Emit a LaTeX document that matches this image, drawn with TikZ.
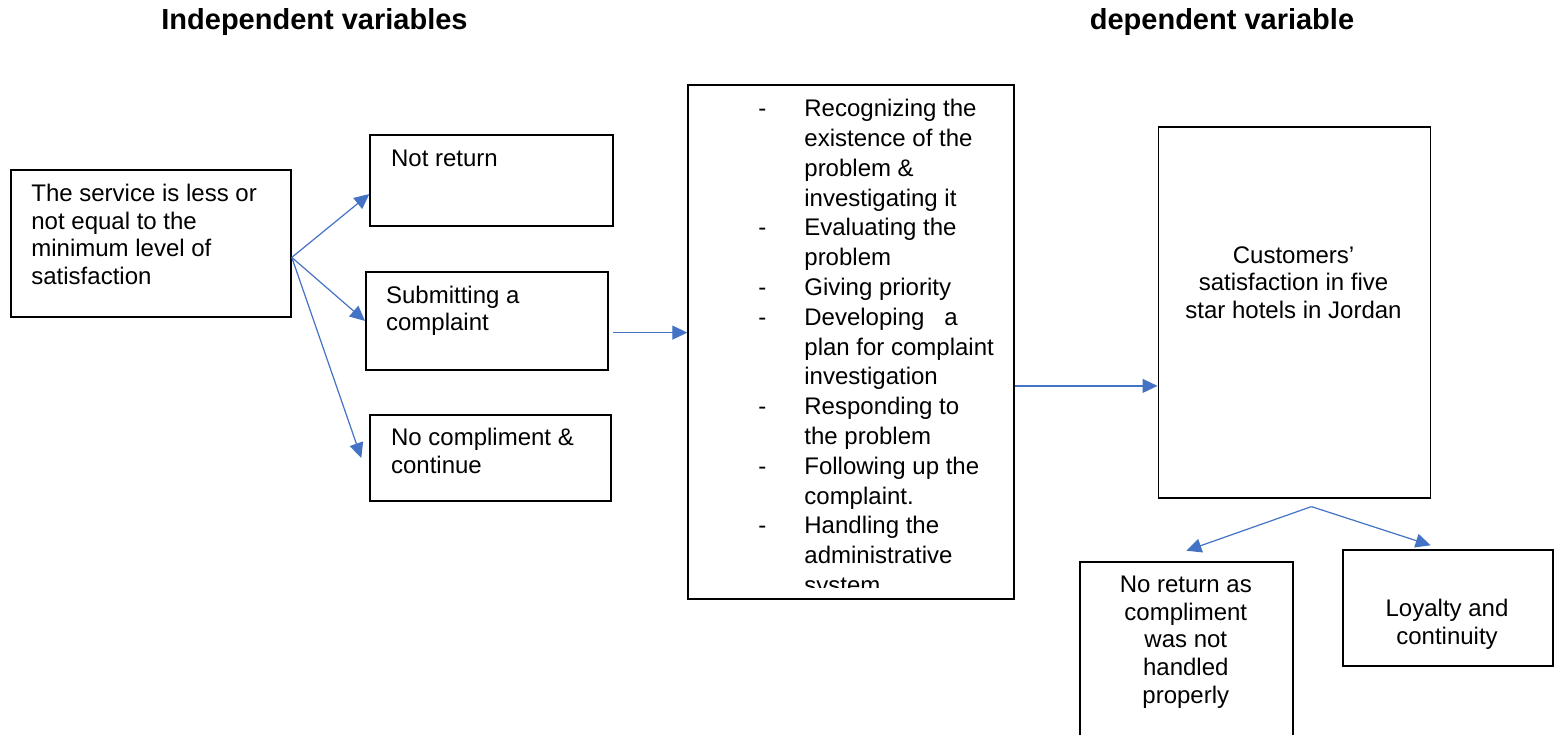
\documentclass[tikz,border=0pt]{standalone}
\usepackage{fontspec}
\setmainfont{Liberation Sans}
\usetikzlibrary{arrows.meta, calc, positioning}
\definecolor{linecol}{RGB}{0, 0, 0}
\definecolor{flowcol}{RGB}{68, 114, 196}
\tikzset{
  box/.style   = {draw=linecol, line width=0.9pt, inner sep=0pt,
                  anchor=north west},
  txt/.style   = {inner sep=0pt, font=\fontsize{12pt}{13.8pt}\selectfont},
  % multi-line texts are placed by the baseline of their last line
  ltxt/.style  = {txt, align=left, anchor=base west},
  ctxt/.style  = {txt, align=center, anchor=base},
  stxt/.style  = {ltxt, font=\fontsize{12pt}{14.9pt}\selectfont},
  title/.style = {inner sep=0pt, anchor=base,
                  font=\fontsize{14.5pt}{17pt}\selectfont\bfseries},
  flow/.style  = {-{Triangle[length=7.5pt, width=7pt]}, draw=flowcol,
                  line width=0.6pt},
}
% a dash in front of each step, the wrapped lines are indented
\newcommand{\dashitem}[1]{\makebox[23pt][l]{-}#1}
\newcommand{\moreitem}[1]{\hspace*{23pt}#1}

\begin{document}
\begin{tikzpicture}[x=0.5pt, y=-0.5pt]
  \useasboundingbox[fill=white] (0,0) rectangle (1556,734);

  %% ---------------- headings ----------------
  \node[title] (indep) at (314.5, 29.3) {Independent variables};
  \node[title] (dep) at (1222, 29.3) {dependent variable};

  %% ---------------- the independent side ----------------
  \node[box, minimum width=140pt, minimum height=73.2pt] (svc)
       at (10, 169.3) {};
  \node[ltxt] (svctxt) at (31, 284.3)
       {The service is less or\\ not equal to the\\ minimum level of\\
        satisfaction};

  \node[box, minimum width=121.2pt, minimum height=45.35pt] (notret)
       at (369.3, 134.3) {};
  \node[ltxt] (notrettxt) at (390.7, 166.7) {Not return};

  \node[box, minimum width=121.15pt, minimum height=49pt] (submit)
       at (365, 271) {};
  \node[ltxt] (submittxt) at (385.7, 330.7) {Submitting a\\ complaint};

  \node[box, minimum width=120.35pt, minimum height=43pt] (nocomp)
       at (369.3, 414) {};
  \node[ltxt] (nocomptxt) at (390.7, 473.3) {No compliment \&\\ continue};

  \coordinate (fork) at ([yshift=-7pt]svc.east);
  \draw[flow] (fork) -- ([yshift=-6.75pt]notret.west);
  \draw[flow] (fork) -- (submit.west);
  \draw[flow] (fork) -- ([xshift=-4pt]nocomp.west);

  %% ---------------- the handling steps ----------------
  \node[box, minimum width=163pt, minimum height=257pt] (steps)
       at (687.3, 84) {};
  \begin{scope}
    \clip (687.3, 84) rectangle (1013.3, 587);
    \node[stxt] (stepstxt) at (758, 593.5)
         {\dashitem{Recognizing the}\\ \moreitem{existence of the}\\
          \moreitem{problem \&}\\ \moreitem{investigating it}\\
          \dashitem{Evaluating the}\\ \moreitem{problem}\\
          \dashitem{Giving priority}\\
          \dashitem{Developing\hspace{10pt}a}\\
          \moreitem{plan for complaint}\\ \moreitem{investigation}\\
          \dashitem{Responding to}\\ \moreitem{the problem}\\
          \dashitem{Following up the}\\ \moreitem{complaint.}\\
          \dashitem{Handling the}\\ \moreitem{administrative}\\
          \moreitem{system}};
  \end{scope}

  \draw[flow] ([xshift=2pt, yshift=-5.85pt]submit.east) coordinate (subout)
       -- (subout -| steps.west);

  %% ---------------- the dependent side ----------------
  \node[box, minimum width=136pt, minimum height=185.65pt] (satis)
       at (1157.5, 126) {};
  \node[ctxt] (satistxt) at (1293.5, 318.3)
       {Customers’\\ satisfaction in five\\ star hotels in Jordan};

  \draw[flow] ([yshift=-22pt]steps.east) coordinate (stepout)
       -- (stepout -| satis.west);

  \node[box, minimum width=106.2pt, minimum height=95pt] (noret)
       at (1079.3, 560.7) {};
  \node[ctxt] (norettxt) at (1185.8, 703)
       {No return as\\ compliment\\ was not\\ handled\\ properly};

  \node[box, minimum width=105pt, minimum height=57.85pt] (loyal)
       at (1341.7, 549.3) {};
  \node[ctxt] (loyaltxt) at (1447, 644) {Loyalty and\\ continuity};

  \coordinate (split) at ([xshift=8.5pt, yshift=-3.75pt]satis.south);
  \draw[flow] (split) -- ([yshift=5pt]noret.north);
  \draw[flow] (split) -- ([xshift=-8.5pt, yshift=2pt]loyal.north);

\end{tikzpicture}
\end{document}
